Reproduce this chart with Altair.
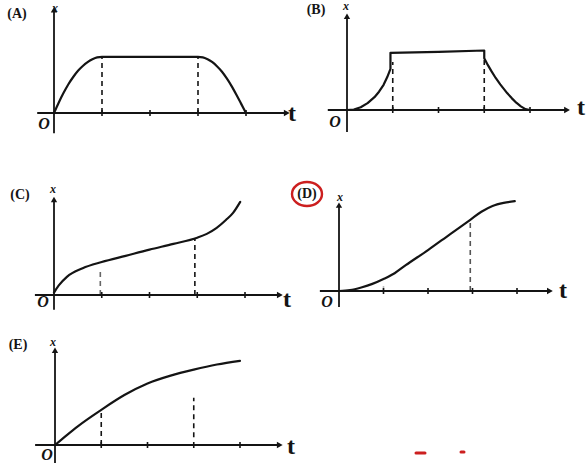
import altair as alt
import pandas as pd

INK = "#141414"
RED = "#cc1f1f"
SERIF = "Liberation Serif"

# ---- position-time curves; t and x both in tick units ----
A_t = [0, 0.1, 0.2, 0.3, 0.4, 0.5, 0.6, 0.7, 0.8, 0.9, 1.0, 2.0, 3.0, 3.1, 3.2, 3.3, 3.4, 3.5, 3.6, 3.7, 3.8, 3.9, 4.0]
A_x = [0, 0.22, 0.42, 0.60, 0.75, 0.88, 0.98, 1.06, 1.12, 1.16, 1.17, 1.17, 1.17, 1.16, 1.12, 1.06, 0.97, 0.86, 0.72, 0.56, 0.38, 0.19, 0.0]

B_t = [0, 0.15, 0.3, 0.45, 0.6, 0.7, 0.8, 0.88, 0.95, 0.95, 2.0, 3.0,
       3.0, 3.08, 3.15, 3.25, 3.35, 3.5, 3.6, 3.7, 3.8, 3.9, 4.0]
B_x = [0, 0.01, 0.06, 0.15, 0.28, 0.40, 0.55, 0.72, 0.90, 1.25, 1.27, 1.30,
       1.13, 0.98, 0.86, 0.70, 0.56, 0.37, 0.26, 0.16, 0.08, 0.02, 0.0]

C_t = [0, 0.1, 0.27, 0.6, 1.0, 1.5, 2.0, 2.5, 3.0, 3.2, 3.4, 3.6, 3.75, 3.9]
C_x = [0.05, 0.2, 0.38, 0.56, 0.69, 0.82, 0.95, 1.07, 1.2, 1.28, 1.4, 1.57, 1.72, 1.95]

D_t = [0, 0.25, 0.5, 0.75, 1.0, 1.25, 1.5, 2.0, 2.5, 2.95, 3.2, 3.45, 3.7, 3.95]
D_x = [0, 0.02, 0.08, 0.16, 0.27, 0.4, 0.58, 0.92, 1.28, 1.6, 1.78, 1.91, 1.98, 2.02]

E_t = [0, 0.25, 0.5, 1.0, 1.5, 2.0, 2.5, 3.0, 3.5, 4.0]
E_x = [0, 0.21, 0.41, 0.76, 1.08, 1.33, 1.5, 1.63, 1.74, 1.82]

# dashed guides: (t, x from, x to, colour)
A_guides = [(1.0, 0, 1.17, INK), (3.0, 0, 1.17, INK)]
B_guides = [(1.0, 0, 1.05, INK), (3.0, 0, 1.1, INK)]
C_guides = [(0.97, 0, 0.5, "#666"), (2.95, 0, 1.19, INK)]
D_guides = [(1.0, 0, 0.2, "#bbb"), (2.95, 0, 1.6, "#555")]
E_guides = [(1.0, 0, 0.76, INK), (3.0, 0.17, 1.02, INK)]

TICKS = [1, 2, 3, 4]


def panel(letter, ts, xs, guides, cell, axis_t, axis_x, pos, circled=False, interp="monotone"):
    """One x-t sketch drawn in a cell of cell=(w, h, ox, oy, px_per_unit)."""
    w, h, ox, oy, u = cell
    ts_dom = [-ox / u, (w - ox) / u]
    xs_dom = [(oy - h) / u, oy / u]
    sx = alt.Scale(domain=ts_dom, nice=False, zero=False)
    sy = alt.Scale(domain=xs_dom, nice=False, zero=False)

    def X(f):
        return alt.X(f, type="quantitative", scale=sx, axis=None)

    def Y(f):
        return alt.Y(f, type="quantitative", scale=sy, axis=None)

    curve = pd.DataFrame({"t": ts, "x": xs, "i": range(len(ts))})
    line = alt.Chart(curve).mark_line(
        color=INK, strokeWidth=2.2, strokeCap="round", strokeJoin="round", interpolate=interp
    ).encode(x=X("t"), y=Y("x"), order="i:Q")

    gd = pd.DataFrame(guides, columns=["t", "x0", "x1", "c"])
    guide = alt.Chart(gd).mark_rule(strokeWidth=1.6, strokeDash=[5, 4]).encode(
        x=X("t"), y=Y("x0"), y2=alt.Y2("x1"), color=alt.Color("c:N", scale=None)
    )

    xaxis = alt.Chart(pd.DataFrame({"a": [axis_t[0]], "b": [axis_t[1]], "z": [0]})).mark_rule(
        color=INK, strokeWidth=1.8
    ).encode(x=X("a"), x2=alt.X2("b"), y=Y("z"))
    yaxis = alt.Chart(pd.DataFrame({"z": [0], "a": [axis_x[0]], "b": [axis_x[1]]})).mark_rule(
        color=INK, strokeWidth=1.8
    ).encode(x=X("z"), y=Y("a"), y2=alt.Y2("b"))

    tk = 3.0 / u
    ticks = alt.Chart(pd.DataFrame({"t": TICKS, "lo": [-tk] * 4, "hi": [tk] * 4})).mark_rule(
        color=INK, strokeWidth=1.6
    ).encode(x=X("t"), y=Y("lo"), y2=alt.Y2("hi"))

    xhead = alt.Chart(pd.DataFrame({"t": [axis_t[1]], "z": [0]})).mark_point(
        shape="triangle-right", filled=True, color=INK, size=45, opacity=1
    ).encode(x=X("t"), y=Y("z"))
    yhead = alt.Chart(pd.DataFrame({"z": [0], "x": [axis_x[1]]})).mark_point(
        shape="triangle-up", filled=True, color=INK, size=40, opacity=1
    ).encode(x=X("z"), y=Y("x"))

    # text annotations, placed in cell pixels
    def label(text, p, **kw):
        return alt.Chart(pd.DataFrame({"s": [text], "px": [p[0]], "py": [p[1]]})).mark_text(
            color=INK, font=SERIF, align="center", baseline="middle", **kw
        ).encode(x=alt.X("px:Q", scale=None), y=alt.Y("py:Q", scale=None), text="s:N")

    layers = [guide, xaxis, yaxis, ticks, xhead, yhead, line,
              label(f"({letter})", pos["name"], fontSize=14, fontWeight="bold"),
              label("x", pos["x"], fontSize=12, fontStyle="italic", fontWeight="bold"),
              label("O", pos["O"], fontSize=16, fontStyle="italic", fontWeight="bold"),
              label("t", pos["t"], fontSize=24, fontWeight="bold")]
    if circled:
        ring = alt.Chart(pd.DataFrame({"px": [pos["name"][0]], "py": [pos["name"][1]]})).mark_point(
            shape="M -1 0 A 1 0.8 0 1 0 1 0 A 1 0.8 0 1 0 -1 0",
            filled=False, color=RED, strokeWidth=2.4, size=900, opacity=1
        ).encode(x=alt.X("px:Q", scale=None), y=alt.Y("py:Q", scale=None))
        layers.append(ring)
    return alt.layer(*layers).properties(width=w, height=h)


pA = panel("A", A_t, A_x, A_guides, (296, 150, 54, 113, 48.0), (-0.35, 4.85), (-0.42, 2.15),
           {"name": (17, 14), "x": (55, 8), "O": (44, 124), "t": (292, 114)})
pB = panel("B", B_t, B_x, B_guides, (291, 150, 51, 110, 45.75), (-0.42, 4.81), (-0.48, 2.05),
           {"name": (20, 10), "x": (50, 6), "O": (39, 122), "t": (285, 108)}, interp="linear")
pC = panel("C", C_t, C_x, C_guides, (296, 170, 54, 145, 47.75), (-0.4, 4.73), (-0.31, 2.0),
           {"name": (20, 45), "x": (53, 39), "O": (43, 152), "t": (287, 150)})
pD = panel("D", D_t, D_x, D_guides, (291, 170, 43, 141, 44.5), (-0.43, 4.74), (-0.36, 1.93),
           {"name": (11, 44), "x": (44, 47), "O": (31, 152), "t": (267, 141)}, circled=True)
pE = panel("E", E_t, E_x, E_guides, (296, 150, 55, 125, 46.25), (-0.43, 4.86), (-0.39, 2.05),
           {"name": (18, 25), "x": (53, 22), "O": (47, 135), "t": (291, 127)})

# stray pen marks in the empty corner
specks = pd.DataFrame({"a": [120, 165], "b": [129, 168], "py": [133, 132]})
blank = alt.Chart(specks).mark_rule(color=RED, strokeWidth=3, strokeCap="round").encode(
    x=alt.X("a:Q", scale=None), x2="b:Q", y=alt.Y("py:Q", scale=None)
).properties(width=291, height=150)

chart = alt.concat(
    pA, pB, pC, pD, pE, blank, columns=2, spacing=0
).properties(padding=0, bounds="flush", background="white").configure_view(stroke=None)

chart.save("out.html", embed_options={"renderer": "svg", "actions": False})
